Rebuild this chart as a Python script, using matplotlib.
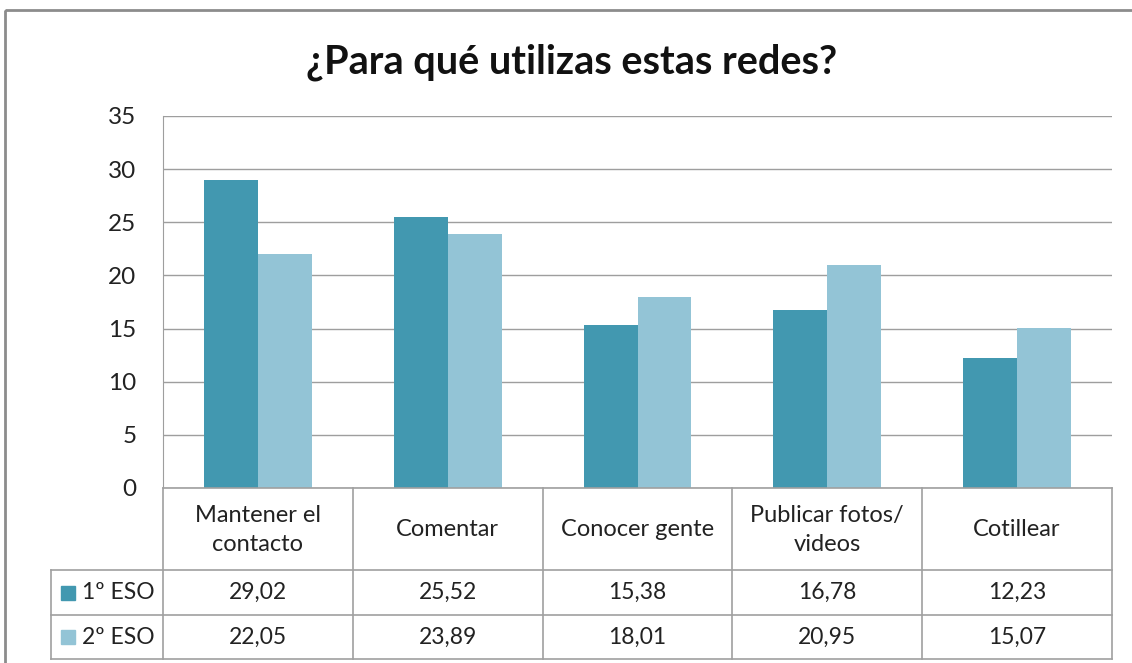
import numpy as np
import matplotlib.pyplot as plt
from matplotlib.patches import Rectangle

categories = ["Mantener el\ncontacto", "Comentar", "Conocer gente", "Publicar fotos/\nvideos", "Cotillear"]
series_names = ["1º ESO", "2º ESO"]
eso1 = [29.02, 25.52, 15.38, 16.78, 12.23]
eso2 = [22.05, 23.89, 18.01, 20.95, 15.07]
yticks = [0, 5, 10, 15, 20, 25, 30, 35]

colors = ["#4298B0", "#93C4D6"]
grid_c = "#9E9E9E"
plt.rcParams['font.family'] = ['Lato', 'DejaVu Sans']

W, H = 1132, 663
fig = plt.figure(figsize=(W / 100, H / 100), dpi=100)

# plot area in pixels
px0, px1, py_top, py0 = 163, 1112, 116, 488
ax = fig.add_axes([px0 / W, 1 - py0 / H, (px1 - px0) / W, (py0 - py_top) / H])
x = np.arange(len(categories))
bw = 0.284
ax.bar(x - bw / 2, eso1, bw, color=colors[0], zorder=3)
ax.bar(x + bw / 2, eso2, bw, color=colors[1], zorder=3)
ax.set_xlim(-0.5, len(categories) - 0.5)
ax.set_ylim(0, 35)
ax.set_yticks(yticks)
ax.set_yticklabels([str(t) for t in yticks], fontsize=17.5, color="#222222")
ax.tick_params(axis='y', length=0, pad=19)
ax.set_xticks([])
ax.grid(axis='y', color=grid_c, linewidth=1, zorder=0)
for s in ["top", "right", "bottom"]:
    ax.spines[s].set_visible(False)
ax.spines["left"].set_color(grid_c)

# overlay in pixel coordinates for table and frame
ov = fig.add_axes([0, 0, 1, 1])
ov.set_xlim(0, W)
ov.set_ylim(H, 0)
ov.axis("off")
ov.patch.set_alpha(0)
ov.add_patch(Rectangle((5, 10), 1140, 670, fill=False, edgecolor="#8C8C8C", linewidth=2))

ov.text(572, 62, "¿Para qué utilizas estas redes?", ha="center", va="center",
        fontsize=28.5, fontweight="bold", color="#111111")

col_edges = np.linspace(px0, px1, len(categories) + 1)
row_cat_bot, row1_bot, row2_bot = 570, 615, 659
lc = "#A0A0A0"
# vertical lines
for cx in col_edges:
    ov.plot([cx, cx], [py0, row2_bot], color=lc, lw=1.2)
ov.plot([51, 51], [row_cat_bot, row2_bot], color=lc, lw=1.2)
# horizontal lines
ov.plot([px0, px1], [py0, py0], color=lc, lw=1.2)
for yy in [row_cat_bot, row1_bot, row2_bot]:
    ov.plot([51, px1], [yy, yy], color=lc, lw=1.2)

centers = (col_edges[:-1] + col_edges[1:]) / 2
for cx, cat in zip(centers, categories):
    ov.text(cx, (py0 + row_cat_bot) / 2 + 1, cat, ha="center", va="center",
            fontsize=17, color="#222222", linespacing=1.45)

rows = [(eso1, row_cat_bot, row1_bot), (eso2, row1_bot, row2_bot)]
for i, (vals, top, bot) in enumerate(rows):
    ym = (top + bot) / 2
    ov.add_patch(Rectangle((61, ym - 7), 14, 14, color=colors[i]))
    ov.text(82, ym, series_names[i], ha="left", va="center", fontsize=16.5, color="#222222")
    for cx, v in zip(centers, vals):
        ov.text(cx, ym, f"{v:.2f}".replace(".", ","), ha="center", va="center",
                fontsize=16.5, color="#222222")

fig.savefig("out.png", dpi=100)
